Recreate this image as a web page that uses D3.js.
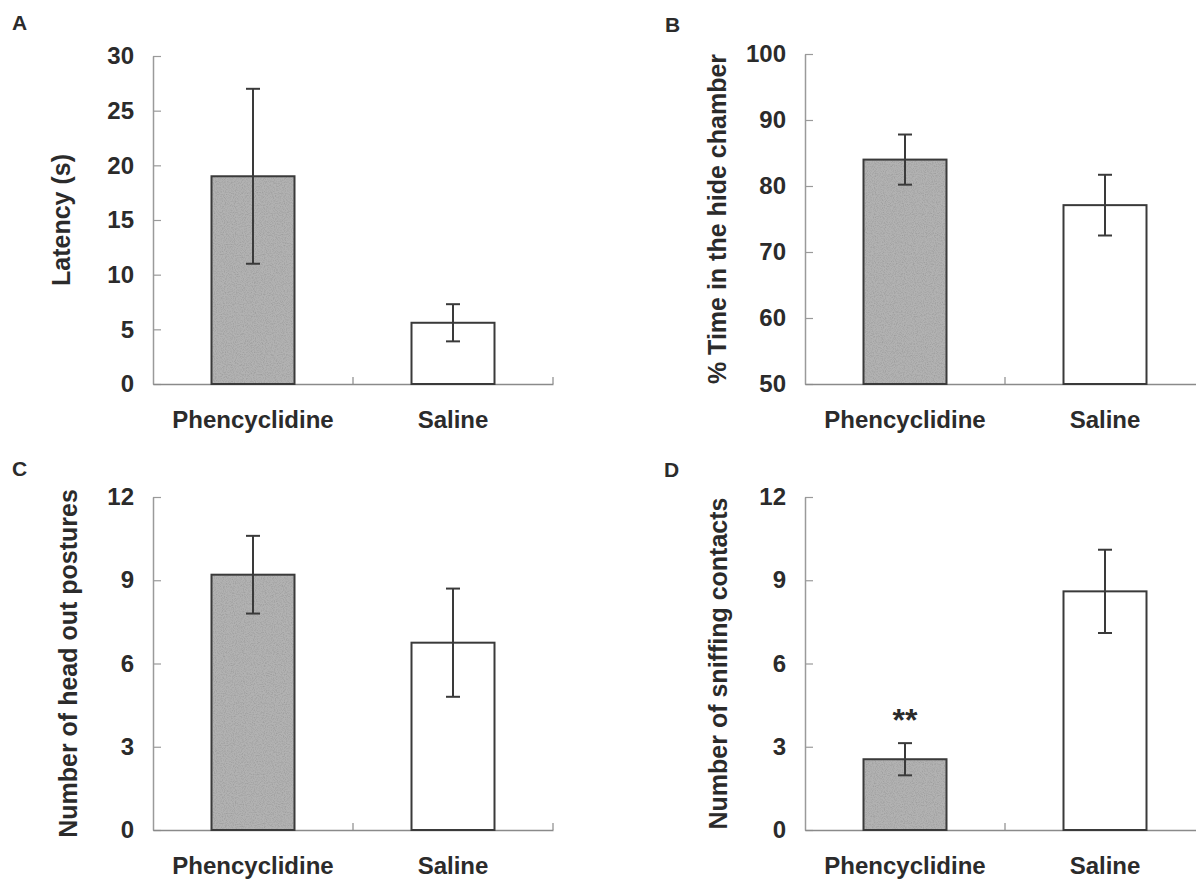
<!DOCTYPE html>
<html>
<head>
<meta charset="utf-8">
<script src="https://cdn.jsdelivr.net/npm/d3@7"></script>
<style>
  html, body { margin: 0; padding: 0; background: #fff; }
  svg { display: block; font-family: "Liberation Sans", Arial, sans-serif; }
</style>
</head>
<body>
<div id="chart"></div>
<script>
// groups on the x axis (same for all four panels)
const groups = ["Phencyclidine", "Saline"];

// A: latency
const latencyMean = [19.0, 5.6];
const latencyErr = [8.0, 1.7];
const latencyTicks = [0, 5, 10, 15, 20, 25, 30];

// B: % time in hide chamber
const hideMean = [84.0, 77.1];
const hideErr = [3.8, 4.6];
const hideTicks = [50, 60, 70, 80, 90, 100];

// C: head out postures
const headOutMean = [9.2, 6.75];
const headOutErr = [1.4, 1.95];

// D: sniffing contacts
const sniffMean = [2.55, 8.6];
const sniffErr = [0.58, 1.5];
const countTicks = [0, 3, 6, 9, 12];

const W = 1196, H = 881;
const ink = "#2b2b2b";

const svg = d3.select("#chart").append("svg")
  .attr("width", W)
  .attr("height", H);

/** grainy fill like the scanned grey bars */
const grain = svg.append("defs").append("filter")
  .attr("id", "grain")
  .attr("x", 0).attr("y", 0).attr("width", 1).attr("height", 1);
grain.append("feTurbulence")
  .attr("type", "fractalNoise")
  .attr("baseFrequency", 0.9)
  .attr("numOctaves", 2)
  .attr("seed", 3)
  .attr("result", "noise");
grain.append("feColorMatrix")
  .attr("in", "noise")
  .attr("type", "matrix")
  .attr("values", "0 0 0 0 0  0 0 0 0 0  0 0 0 0 0  0 0 0 -0.5 0.3")
  .attr("result", "dots");
grain.append("feComposite")
  .attr("in", "dots")
  .attr("in2", "SourceGraphic")
  .attr("operator", "in")
  .attr("result", "dotsIn");
grain.append("feMerge").each(function() {
  d3.select(this).append("feMergeNode").attr("in", "SourceGraphic");
  d3.select(this).append("feMergeNode").attr("in", "dotsIn");
});

/** one bar panel */
function drawPanel(p) {
  const g = svg.append("g");

  const x = d3.scaleBand()
    .domain(groups)
    .range([p.left, p.left + 400]);

  const y = d3.scaleLinear()
    .domain([p.ticks[0], p.ticks[p.ticks.length - 1]])
    .range([p.bottom, p.top]);

  const barW = x.bandwidth() * 0.415;

  // y axis, ticks pointing inward
  const yAxis = d3.axisLeft(y)
    .tickValues(p.ticks)
    .tickSize(-8)
    .tickSizeOuter(0)
    .tickPadding(19);

  const ya = g.append("g")
    .attr("transform", "translate(" + p.left + ",0)")
    .call(yAxis);
  ya.select(".domain").attr("stroke", "#9a9a9a").attr("stroke-width", 1.5);
  ya.selectAll(".tick line").attr("stroke", "#9a9a9a").attr("stroke-width", 1.2);
  ya.selectAll(".tick text")
    .attr("fill", ink)
    .attr("font-size", 24)
    .attr("font-weight", "bold");

  // x axis with category labels
  const xAxis = d3.axisBottom(x).tickSize(0).tickPadding(27);
  const xa = g.append("g")
    .attr("transform", "translate(0," + p.bottom + ")")
    .call(xAxis);
  xa.select(".domain").attr("stroke", "#8a8a8a").attr("stroke-width", 1.5);
  xa.selectAll(".tick text")
    .attr("fill", ink)
    .attr("font-size", 24)
    .attr("font-weight", "bold");

  // small up-ticks at band boundaries
  g.append("g").selectAll("line")
    .data([1, 2])
    .enter()
    .append("line")
    .attr("x1", (d) => x.range()[0] + d * x.step())
    .attr("x2", (d) => x.range()[0] + d * x.step())
    .attr("y1", p.bottom)
    .attr("y2", p.bottom - 7)
    .attr("stroke", "#8a8a8a")
    .attr("stroke-width", 1.2);

  const barX = (d) => x(d) + (x.bandwidth() - barW) / 2;

  // bar fills (grainy grey for drug, white for saline)
  g.append("g").selectAll("rect")
    .data(groups)
    .enter()
    .append("rect")
    .attr("x", barX)
    .attr("y", (d, i) => y(p.mean[i]))
    .attr("width", barW)
    .attr("height", (d, i) => y(p.ticks[0]) - y(p.mean[i]))
    .attr("fill", (d, i) => i === 0 ? "#b2b2b2" : "#fff")
    .attr("filter", (d, i) => i === 0 ? "url(#grain)" : null);

  // bar outlines
  g.append("g").selectAll("rect")
    .data(groups)
    .enter()
    .append("rect")
    .attr("x", barX)
    .attr("y", (d, i) => y(p.mean[i]))
    .attr("width", barW)
    .attr("height", (d, i) => y(p.ticks[0]) - y(p.mean[i]))
    .attr("fill", "none")
    .attr("stroke", "#3a3a3a")
    .attr("stroke-width", 2);

  // error bars
  const eb = g.append("g").selectAll("g")
    .data(groups)
    .enter()
    .append("g")
    .attr("stroke", "#3a3a3a")
    .attr("stroke-width", 2);

  eb.append("line")
    .attr("x1", (d) => x(d) + x.bandwidth() / 2)
    .attr("x2", (d) => x(d) + x.bandwidth() / 2)
    .attr("y1", (d, i) => y(p.mean[i] + p.err[i]))
    .attr("y2", (d, i) => y(p.mean[i] - p.err[i]));
  [1, -1].forEach(function(s) {
    eb.append("line")
      .attr("x1", (d) => x(d) + x.bandwidth() / 2 - 7)
      .attr("x2", (d) => x(d) + x.bandwidth() / 2 + 7)
      .attr("y1", (d, i) => y(p.mean[i] + s * p.err[i]))
      .attr("y2", (d, i) => y(p.mean[i] + s * p.err[i]));
  });

  // significance mark
  if (p.star) {
    g.append("text")
      .attr("x", x(groups[0]) + x.bandwidth() / 2)
      .attr("y", y(p.mean[0] + p.err[0]) - 12)
      .attr("text-anchor", "middle")
      .attr("font-size", 32)
      .attr("font-weight", "bold")
      .attr("fill", ink)
      .text(p.star);
  }

  // y axis title
  g.append("text")
    .attr("transform", "translate(" + p.titleX + "," + ((p.top + p.bottom) / 2) + ") rotate(-90)")
    .attr("text-anchor", "middle")
    .attr("font-size", 25)
    .attr("font-weight", "bold")
    .attr("fill", ink)
    .text(p.title);

  // panel letter
  g.append("text")
    .attr("x", p.letterX)
    .attr("y", p.letterY)
    .attr("font-size", 21)
    .attr("font-weight", "bold")
    .attr("fill", ink)
    .text(p.letter);
}

drawPanel({
  letter: "A", letterX: 12, letterY: 30,
  left: 153, top: 56, bottom: 384,
  ticks: latencyTicks, mean: latencyMean, err: latencyErr,
  title: "Latency (s)", titleX: 70
});

drawPanel({
  letter: "B", letterX: 665, letterY: 32,
  left: 805, top: 54, bottom: 384,
  ticks: hideTicks, mean: hideMean, err: hideErr,
  title: "% Time in the hide chamber", titleX: 726
});

drawPanel({
  letter: "C", letterX: 12, letterY: 476,
  left: 153, top: 497, bottom: 830,
  ticks: countTicks, mean: headOutMean, err: headOutErr,
  title: "Number of head out postures", titleX: 77
});

drawPanel({
  letter: "D", letterX: 664, letterY: 477,
  left: 805, top: 497, bottom: 830,
  ticks: countTicks, mean: sniffMean, err: sniffErr,
  title: "Number of sniffing contacts", titleX: 727, star: "**"
});
</script>
</body>
</html>
